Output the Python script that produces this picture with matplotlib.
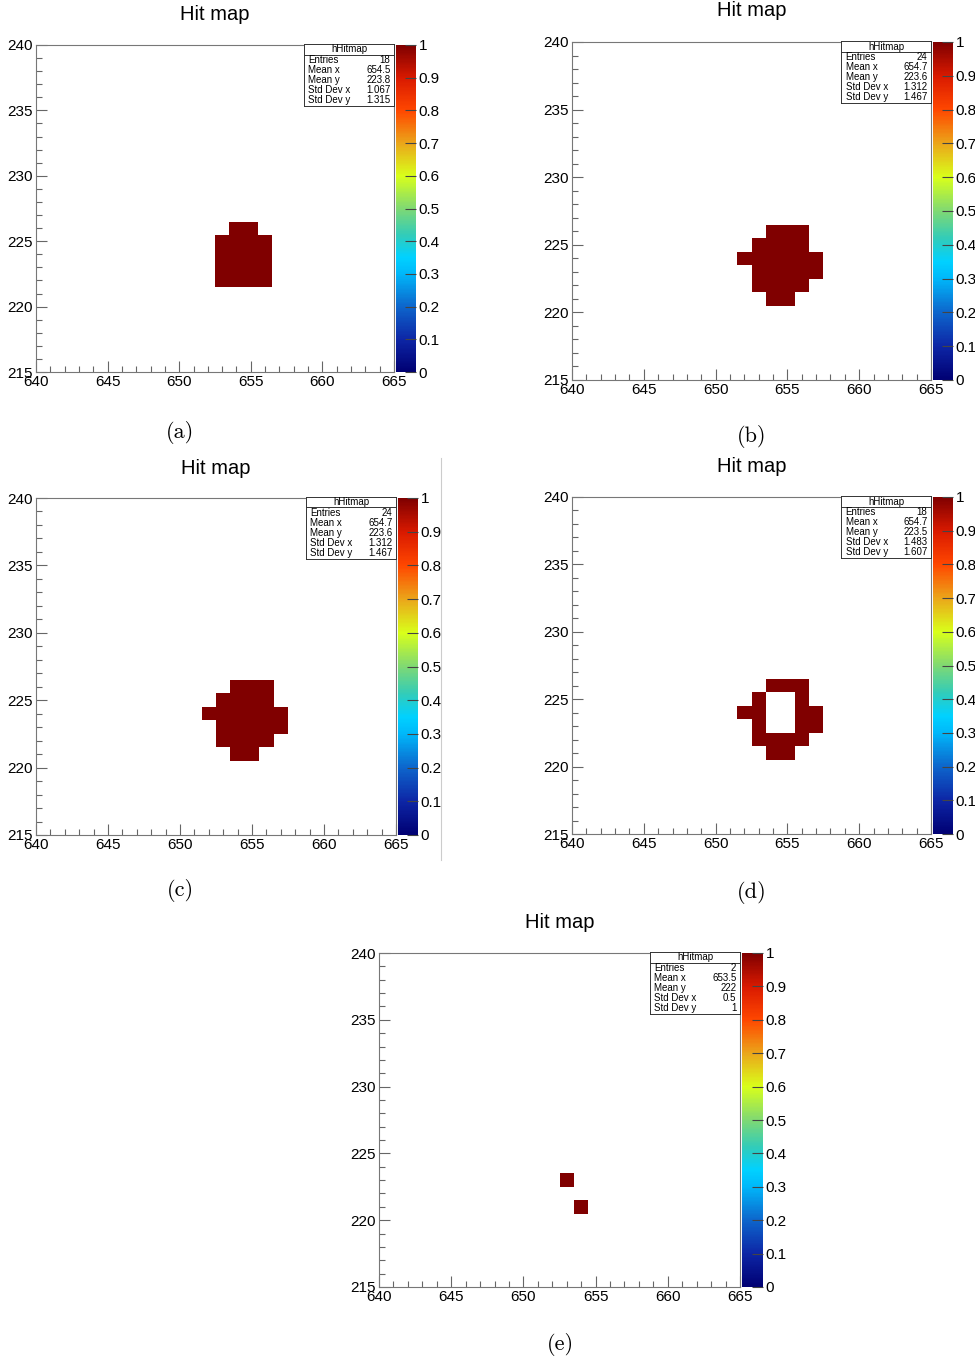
import numpy as np
import matplotlib
matplotlib.use("Agg")
import matplotlib.pyplot as plt
from matplotlib.colors import LinearSegmentedColormap
from matplotlib.ticker import MultipleLocator, FuncFormatter
from matplotlib.lines import Line2D

# ---- hit pixel coordinates (column, row) for each event ----
hits_a_x = [654, 655,
            653, 654, 655, 656,
            653, 654, 655, 656,
            653, 654, 655, 656,
            653, 654, 655, 656]
hits_a_y = [226, 226,
            225, 225, 225, 225,
            224, 224, 224, 224,
            223, 223, 223, 223,
            222, 222, 222, 222]

hits_b_x = [654, 655, 656,
            653, 654, 655, 656,
            652, 653, 654, 655, 656, 657,
            653, 654, 655, 656, 657,
            653, 654, 655, 656,
            654, 655]
hits_b_y = [226, 226, 226,
            225, 225, 225, 225,
            224, 224, 224, 224, 224, 224,
            223, 223, 223, 223, 223,
            222, 222, 222, 222,
            221, 221]

hits_c_x = list(hits_b_x)
hits_c_y = list(hits_b_y)

hits_d_x = [654, 655, 656,
            653, 656,
            652, 653, 656, 657,
            653, 656, 657,
            653, 654, 655, 656,
            654, 655]
hits_d_y = [226, 226, 226,
            225, 225,
            224, 224, 224, 224,
            223, 223, 223,
            222, 222, 222, 222,
            221, 221]

hits_e_x = [653, 654]
hits_e_y = [223, 221]

panel_labels = ["(a)", "(b)", "(c)", "(d)", "(e)"]
hist_title = "Hit map"
hist_name = "hHitmap"
x_range = (640, 665)
y_range = (215, 240)
cbar_ticks = [0.0, 0.1, 0.2, 0.3, 0.4, 0.5, 0.6, 0.7, 0.8, 0.9, 1.0]

# rainbow palette
palette = LinearSegmentedColormap.from_list("rainbow_root", [
    (0.00, (0.00, 0.00, 0.45)),
    (0.10, (0.05, 0.15, 0.65)),
    (0.20, (0.05, 0.40, 0.80)),
    (0.30, (0.00, 0.72, 0.98)),
    (0.35, (0.00, 0.82, 1.00)),
    (0.42, (0.20, 0.80, 0.72)),
    (0.50, (0.50, 0.85, 0.45)),
    (0.60, (0.85, 1.00, 0.10)),
    (0.70, (0.92, 0.65, 0.10)),
    (0.80, (1.00, 0.28, 0.00)),
    (0.90, (0.85, 0.10, 0.00)),
    (1.00, (0.50, 0.00, 0.00)),
])

FW, FH = 975, 1362
fig = plt.figure(figsize=(FW / 100, FH / 100), dpi=100)
fig.patch.set_facecolor("white")

SANS = ["Liberation Sans", "DejaVu Sans"]
SERIF = ["cmr10", "DejaVu Serif"]


def rect(x0, y0, x1, y1):
    return [x0 / FW, 1 - y1 / FH, (x1 - x0) / FW, (y1 - y0) / FH]


def fmt4(v):
    return "%.4g" % v


def draw_panel(xs, ys, ax_px, cb_px, title_px, caption, cap_px):
    xs = np.asarray(xs, dtype=float)
    ys = np.asarray(ys, dtype=float)
    ax = fig.add_axes(rect(*ax_px))
    xedges = np.arange(x_range[0] - 0.5, x_range[1] + 1.5, 1.0)
    yedges = np.arange(y_range[0] - 0.5, y_range[1] + 1.5, 1.0)
    counts, _, _ = np.histogram2d(xs, ys, bins=[xedges, yedges])
    masked = np.ma.masked_equal(counts.T, 0)
    mesh = ax.pcolormesh(xedges, yedges, masked, cmap=palette, vmin=0, vmax=1,
                         antialiased=False, linewidth=0)
    ax.set_xlim(*x_range)
    ax.set_ylim(*y_range)
    ax.xaxis.set_major_locator(MultipleLocator(5))
    ax.xaxis.set_minor_locator(MultipleLocator(1))
    ax.yaxis.set_major_locator(MultipleLocator(5))
    ax.yaxis.set_minor_locator(MultipleLocator(1))
    ax.tick_params(which="both", direction="in", top=False, right=False,
                   color="#666666", width=0.8)
    ax.tick_params(which="major", length=8, labelsize=11, pad=2)
    ax.tick_params(which="minor", length=4)
    for lab in ax.get_xticklabels() + ax.get_yticklabels():
        lab.set_fontfamily(SANS)
    for sp in ax.spines.values():
        sp.set_color("#777777")
        sp.set_linewidth(0.8)

    # colour scale
    cax = fig.add_axes(rect(*cb_px))
    cb = fig.colorbar(mesh, cax=cax, ticks=cbar_ticks)
    cb.outline.set_linewidth(0.0)
    cax.yaxis.set_major_formatter(FuncFormatter(lambda v, p: "%g" % round(v, 1)))
    cax.tick_params(direction="in", length=8, width=0.8, color="#444444",
                    labelsize=11, pad=2)
    cax.minorticks_off()
    for lab in cax.get_yticklabels():
        lab.set_fontfamily(SANS)

    # title
    fig.text(title_px[0] / FW, 1 - title_px[1] / FH, hist_title, ha="center",
             va="center", fontsize=14.5, family=SANS)

    # statistics box
    bw, bh = 90, 62
    bx1 = ax_px[2]
    by0 = ax_px[1] - 1
    sax = fig.add_axes(rect(bx1 - bw, by0, bx1, by0 + bh))
    sax.set_xlim(0, 1)
    sax.set_ylim(0, 1)
    sax.set_xticks([])
    sax.set_yticks([])
    sax.set_facecolor("white")
    for sp in sax.spines.values():
        sp.set_color("#333333")
        sp.set_linewidth(0.7)
    row_h = 1.0 / 6.2
    sax.text(0.5, 1 - 0.55 * row_h, hist_name, ha="center", va="center",
             fontsize=7, family=SANS)
    sax.plot([0, 1], [1 - 1.05 * row_h, 1 - 1.05 * row_h], color="#333333", lw=0.7)
    rows = [
        ("Entries", "%d" % len(xs)),
        ("Mean x", fmt4(xs.mean())),
        ("Mean y", fmt4(ys.mean())),
        ("Std Dev x", fmt4(xs.std())),
        ("Std Dev y", fmt4(ys.std())),
    ]
    for i, (name, val) in enumerate(rows):
        yy = 1 - (1.6 + i) * row_h
        sax.text(0.05, yy, name, ha="left", va="center", fontsize=7, family=SANS)
        sax.text(0.96, yy, val, ha="right", va="center", fontsize=7, family=SANS)

    # sub-figure caption
    fig.text(cap_px[0] / FW, 1 - cap_px[1] / FH, caption, ha="center", va="center",
             fontsize=16, family=SERIF)


draw_panel(hits_a_x, hits_a_y, (36, 45, 394, 372), (396, 45, 416, 372),
           (215, 15), panel_labels[0], (180, 432))
draw_panel(hits_b_x, hits_b_y, (572, 42, 931, 380), (933, 42, 953, 380),
           (752, 11), panel_labels[1], (752, 436))
draw_panel(hits_c_x, hits_c_y, (36, 498, 396, 835), (398, 498, 418, 835),
           (216, 469), panel_labels[2], (180, 891))
draw_panel(hits_d_x, hits_d_y, (572, 497, 931, 834), (933, 497, 953, 834),
           (752, 467), panel_labels[3], (752, 893))
draw_panel(hits_e_x, hits_e_y, (379, 953, 740, 1287), (742, 953, 763, 1287),
           (560, 923), panel_labels[4], (560, 1344))

# thin separator between the middle panels
fig.add_artist(Line2D([441 / FW, 441 / FW], [1 - 458 / FH, 1 - 860 / FH],
                      color="#cccccc", lw=0.8))

fig.savefig("out.png", dpi=100, facecolor="white")
